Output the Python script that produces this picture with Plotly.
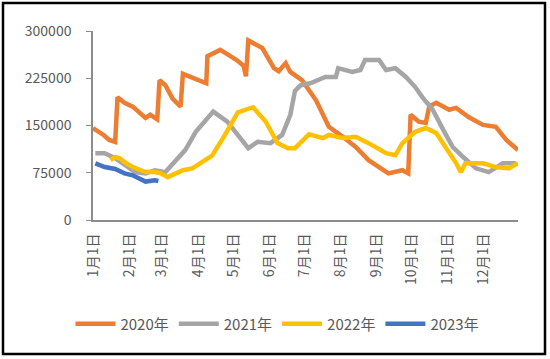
import plotly.graph_objects as go

# day-of-year offsets (0 = 1月1日) and values
days_2020 = [0, 3, 9, 14, 19, 21, 27, 34, 40, 45, 49, 53, 55, 57, 62, 68, 73, 75, 77, 83, 89, 97, 98,
             102, 109, 116, 123, 129, 131, 133, 139, 145, 150, 155, 159, 165, 169, 179, 191, 202,
             214, 225, 236, 248, 253, 265, 270, 272, 279, 285, 288, 294, 305, 311, 322, 334, 345, 354, 364]
vals_2020 = [146000, 143000, 135000, 127000, 124000, 195000, 186000, 180000, 170000, 162000, 167000,
             163000, 160000, 222000, 214000, 193000, 182000, 180000, 232000, 228000, 224000, 217000,
             260000, 263000, 270000, 262000, 254000, 245000, 228000, 285000, 278000, 273000, 257000,
             241000, 236000, 249000, 235000, 222000, 190000, 148000, 132000, 116000, 95000, 79000,
             74000, 79000, 74000, 167000, 156000, 154000, 180000, 186000, 175000, 178000, 163000,
             151000, 148000, 127000, 111000]

days_2021 = [2, 10, 19, 27, 36, 45, 53, 62, 69, 79, 88, 92, 103, 115, 126, 133, 141, 152, 162, 169,
             173, 178, 186, 199, 208, 210, 222, 229, 233, 245, 251, 259, 268, 276, 282, 291, 300,
             308, 317, 328, 339, 351, 362]
vals_2021 = [106000, 106000, 98000, 87000, 76000, 74000, 79000, 76000, 90000, 111000, 140000, 148000,
             172000, 156000, 132000, 114000, 124000, 122000, 135000, 167000, 205000, 214000, 217000,
             227000, 227000, 241000, 235000, 238000, 254000, 254000, 238000, 241000, 227000, 211000,
             195000, 175000, 143000, 116000, 100000, 82000, 76000, 90000, 90000]

days_2022 = [15, 19, 23, 27, 34, 45, 53, 58, 64, 73, 77, 85, 92, 102, 113, 124, 137, 148, 158, 167,
             173, 185, 197, 202, 214, 225, 236, 251, 259, 265, 276, 285, 294, 302, 311, 315, 319,
             334, 345, 356, 364]
vals_2022 = [95000, 100000, 98000, 92000, 84000, 76000, 76000, 74000, 68000, 76000, 79000, 82000,
             90000, 102000, 135000, 171000, 179000, 156000, 122000, 114000, 114000, 136000, 130000,
             135000, 130000, 132000, 122000, 106000, 103000, 122000, 140000, 146000, 138000, 116000,
             90000, 76000, 90000, 90000, 84000, 82000, 90000]

days_2023 = [2, 10, 19, 27, 34, 40, 45, 53, 56]
vals_2023 = [90000, 84000, 81000, 74000, 71000, 65000, 61000, 63000, 62000]

series_names = ["2020年", "2021年", "2022年", "2023年"]
series_colors = ["#ED7D31", "#A5A5A5", "#FFC000", "#4472C4"]

month_days = [0, 31, 59, 90, 120, 151, 181, 212, 243, 273, 304, 334]
month_labels = ["1月1日", "2月1日", "3月1日", "4月1日", "5月1日", "6月1日",
                "7月1日", "8月1日", "9月1日", "10月1日", "11月1日", "12月1日"]
y_ticks = [0, 75000, 150000, 225000, 300000]

FONT = "Noto Sans CJK SC"
GRAY_TXT = "#595959"

fig = go.Figure()
for name, color, xs, ys in zip(series_names, series_colors,
                               [days_2020, days_2021, days_2022, days_2023],
                               [vals_2020, vals_2021, vals_2022, vals_2023]):
    fig.add_trace(go.Scatter(x=xs, y=ys, mode="lines", name=name,
                             line=dict(color=color, width=4.5)))

fig.update_layout(
    width=550, height=359,
    margin=dict(l=93, r=32, t=31, b=139, autoexpand=False),
    paper_bgcolor="white", plot_bgcolor="white",
    font=dict(family=FONT, color=GRAY_TXT),
    showlegend=True,
    legend=dict(orientation="h", x=0.434, xanchor="center", y=-0.55, yanchor="middle",
                font=dict(size=15, color=GRAY_TXT), itemwidth=40,
                tracegroupgap=0, bgcolor="rgba(0,0,0,0)"),
    xaxis=dict(range=[0, 364], tickmode="array", tickvals=month_days, ticktext=month_labels,
               tickangle=-90, showgrid=False, zeroline=False, automargin=False,
               showline=True, linecolor="#8C8C8C", linewidth=2,
               ticks="", tickfont=dict(size=14, color=GRAY_TXT), ticklabelstandoff=6,
               fixedrange=True),
    yaxis=dict(range=[0, 300000], tickmode="array", tickvals=y_ticks,
               ticktext=[str(v) for v in y_ticks], automargin=False,
               showgrid=False, zeroline=False, showline=True, linecolor="#8C8C8C", linewidth=1.5,
               ticks="outside", ticklen=5, tickcolor="#8C8C8C",
               tickfont=dict(size=14, color=GRAY_TXT), ticklabelstandoff=12),
)

# outer black frame of the chart
fig.add_shape(type="rect", xref="paper", yref="paper",
              x0=(3 - 93) / 425, x1=(545 - 93) / 425,
              y0=(220 - 354) / 189, y1=(220 - 3) / 189,
              line=dict(color="black", width=2.5), fillcolor="rgba(0,0,0,0)", layer="below")

fig.write_html("out.html", config={"displayModeBar": False},
               post_script="document.body.style.margin='0';document.body.style.overflow='hidden';")
